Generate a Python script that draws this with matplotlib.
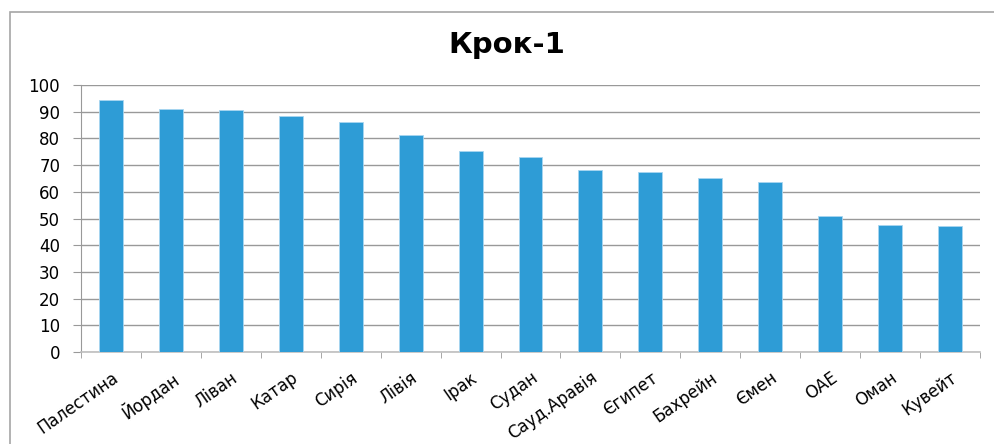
import numpy as np
import matplotlib.pyplot as plt
from matplotlib.patches import Rectangle

plt.rcParams["font.family"] = ["DejaVu Sans"]

countries = ["Палестина", "Йордан", "Ліван", "Катар", "Сирія", "Лівія", "Ірак",
             "Судан", "Сауд.Аравія", "Єгипет", "Бахрейн", "Ємен", "ОАЕ", "Оман", "Кувейт"]
values = [94.5, 91.0, 90.7, 88.3, 86.0, 81.3, 75.4,
          72.9, 68.1, 67.5, 65.0, 63.7, 51.1, 47.7, 47.3]
yticks = list(range(0, 101, 10))

W, H = 995, 444
fig = plt.figure(figsize=(W / 100, H / 100), dpi=100)
ax = fig.add_axes([81 / W, 1 - 352 / H, (980 - 81) / W, (352 - 85) / H])

x = np.arange(len(countries))
ax.bar(x, values, width=0.4, color="#2e9cd6", edgecolor="#a9d6f0", linewidth=0.6, zorder=3)

ax.set_xlim(-0.5, len(countries) - 0.5)
ax.set_ylim(0, 100)
ax.set_yticks(yticks)
ax.yaxis.grid(True, color="#999999", linewidth=1)
ax.set_axisbelow(True)

for s in ["top", "right"]:
    ax.spines[s].set_visible(False)
ax.spines["left"].set_color("#999999")
ax.spines["bottom"].set_color("#bfbfbf")
ax.spines["bottom"].set_linewidth(1.2)

ax.tick_params(axis="y", length=6, color="#999999", labelsize=12, pad=9)
ax.set_xticks(x)
ax.set_xticklabels(countries, rotation=35, ha="right", rotation_mode="anchor", fontsize=12)
ax.tick_params(axis="x", which="major", length=0, pad=12)
ax.set_xticks(np.arange(-0.5, len(countries), 1.0), minor=True)
ax.tick_params(axis="x", which="minor", length=4, color="#999999")

fig.text(507 / W, 1 - 45 / H, "Крок-1", ha="center", va="center", fontsize=21, fontweight="bold")

fig.add_artist(Rectangle((10 / W, -0.1), 1.2, 1.1 - 12 / H, transform=fig.transFigure,
                         fill=False, edgecolor="#a6a6a6", linewidth=1.2))

fig.savefig("out.png", dpi=100)
